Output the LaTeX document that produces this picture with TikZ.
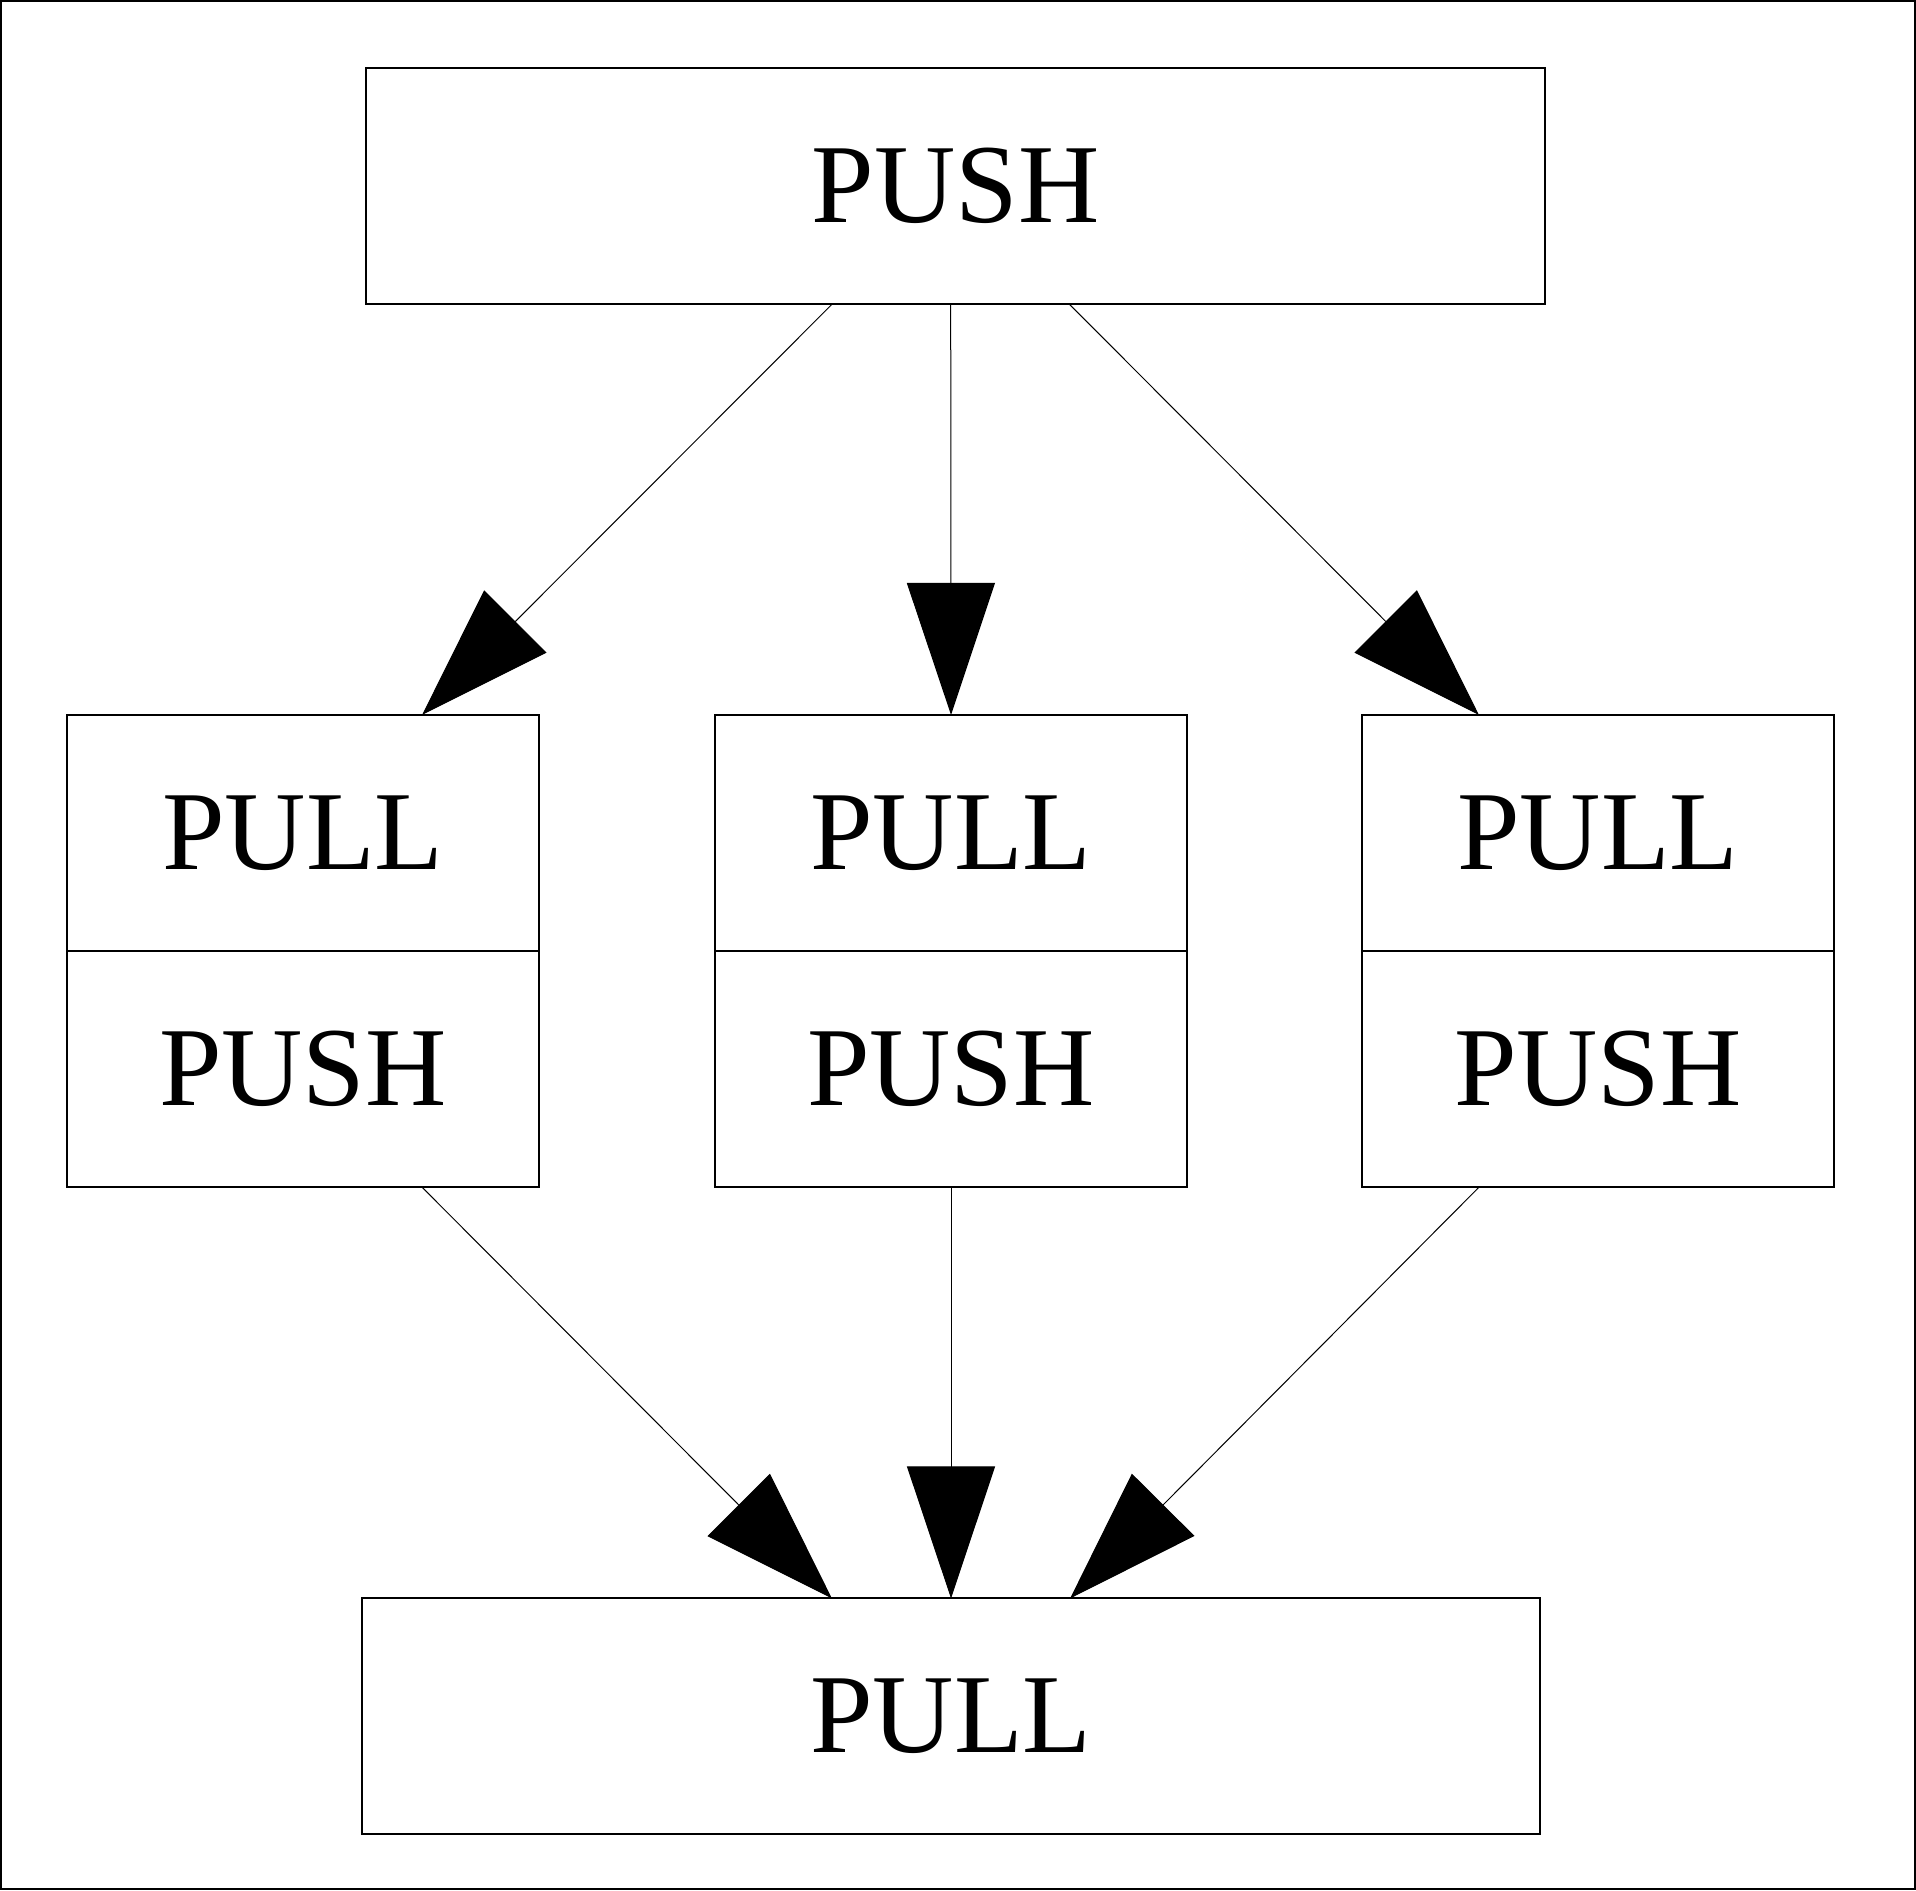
\documentclass[tikz,border=0pt]{standalone}
\usepackage{fontspec}
\setmainfont{Liberation Serif}
\usetikzlibrary{arrows.meta,positioning}

\begin{document}
\begin{tikzpicture}[x=0.01cm, y=-0.01cm,
	box/.style = {draw, line width=0.02cm, outer sep=0pt, inner sep=0pt, minimum width=11.78cm, minimum height=2.35cm, font=\fontsize{32}{38}\selectfont},
	cell/.style = {draw, line width=0.02cm, outer sep=0pt, inner sep=0pt, minimum width=4.72cm, minimum height=2.36cm, font=\fontsize{32}{38}\selectfont},
	edge/.style = {line width=0.01cm, -{Triangle[length=1.32cm, width=0.88cm]}}]
				\useasboundingbox (0,0) rectangle (1916,1890);
				\draw[line width=0.02cm] (1,1) rectangle (1915,1889);
				
				\node[box] (push) at (955.7,186) {PUSH};
				\foreach \n/\x in {a/303, b/951, c/1598}{
					\node[cell] (pull\n) at (\x,833) {PULL};
					\node[cell, below=0pt of pull\n] (push\n) {PUSH};
				}
				\node[box] (pull) at (951,1716) {PULL};
				
				\draw[edge] ([xshift=-1.23cm]push.south) -- ([xshift=1.19cm]pulla.north);
				\draw[edge] ([xshift=-0.05cm]push.south) -- (pullb.north);
				\draw[edge] ([xshift=1.13cm]push.south) -- ([xshift=-1.19cm]pullc.north);
				
				\draw[edge] ([xshift=1.19cm]pusha.south) -- ([xshift=-1.19cm]pull.north);
				\draw[edge] (pushb.south) -- (pull.north);
				\draw[edge] ([xshift=-1.19cm]pushc.south) -- ([xshift=1.19cm]pull.north);
				
				\end{tikzpicture}
\end{document}
